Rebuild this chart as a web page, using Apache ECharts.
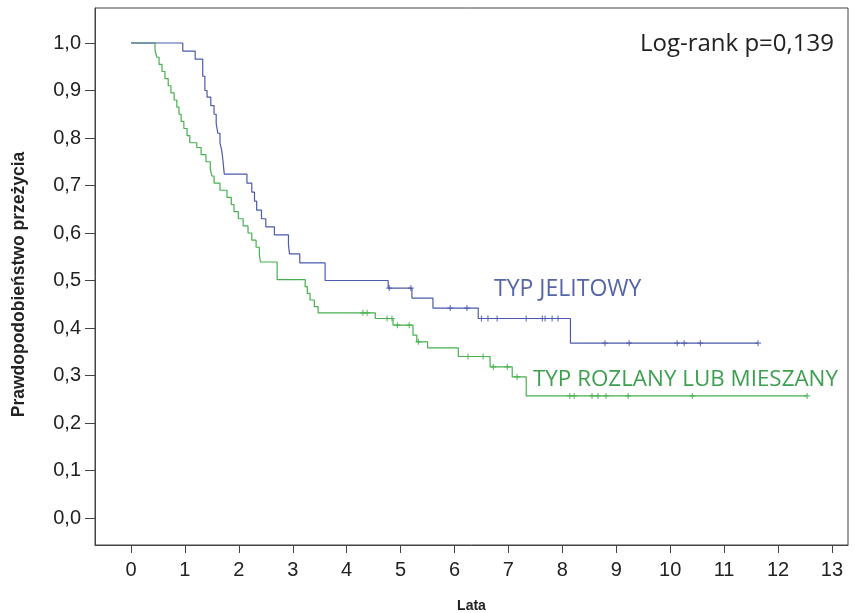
<!DOCTYPE html>
<html>
<head>
<meta charset="utf-8">
<script src="https://cdn.jsdelivr.net/npm/echarts@6/dist/echarts.min.js"></script>
<style>html,body{margin:0;padding:0;background:#fff}#c{width:856px;height:613px}</style>
</head>
<body>
<div id="c"></div>
<script>
// Kaplan-Meier steps: time of event and survival after it
const jelitowyTimes = [0, 0.96, 1.19, 1.33, 1.37, 1.41, 1.48, 1.54, 1.58, 1.61, 1.65, 1.68, 1.70, 1.73, 2.15, 2.24, 2.29, 2.33, 2.42, 2.50, 2.66, 2.92, 2.94, 3.13, 3.60, 4.77, 5.21, 5.60, 6.44, 8.15, 11.63];
const jelitowySurv  = [1.0, 0.983, 0.966, 0.93, 0.90, 0.886, 0.868, 0.85, 0.83, 0.81, 0.79, 0.775, 0.758, 0.724, 0.705, 0.686, 0.667, 0.648, 0.63, 0.613, 0.596, 0.575, 0.556, 0.537, 0.50, 0.484, 0.463, 0.442, 0.42, 0.368, 0.368];
const jelitowyCensor = [4.79, 5.19, 5.92, 6.23, 6.50, 6.62, 6.79, 7.33, 7.63, 7.68, 7.81, 7.92, 8.79, 9.24, 10.13, 10.26, 10.56, 11.63];

const rozlanyTimes = [0, 0.445, 0.48, 0.52, 0.575, 0.63, 0.69, 0.74, 0.80, 0.85, 0.89, 0.93, 0.98, 1.04, 1.09, 1.22, 1.30, 1.39, 1.47, 1.50, 1.54, 1.65, 1.78, 1.86, 1.91, 1.99, 2.08, 2.17, 2.24, 2.32, 2.38, 2.40, 2.71, 3.23, 3.27, 3.32, 3.40, 3.47, 4.53, 4.86, 5.23, 5.30, 5.50, 6.07, 6.66, 7.07, 7.33, 12.54];
const rozlanySurv  = [1.0, 0.985, 0.97, 0.955, 0.94, 0.925, 0.91, 0.895, 0.88, 0.865, 0.85, 0.835, 0.82, 0.805, 0.79, 0.78, 0.765, 0.75, 0.735, 0.72, 0.705, 0.69, 0.675, 0.66, 0.645, 0.63, 0.615, 0.60, 0.585, 0.57, 0.555, 0.539, 0.502, 0.487, 0.473, 0.459, 0.445, 0.432, 0.42, 0.406, 0.385, 0.371, 0.358, 0.34, 0.318, 0.297, 0.257, 0.257];
const rozlanyCensor = [4.30, 4.38, 4.75, 4.84, 4.94, 5.16, 5.33, 6.25, 6.53, 6.72, 6.98, 7.16, 8.14, 8.22, 8.55, 8.66, 8.81, 9.22, 10.41, 12.54];

const xTicks = [0,1,2,3,4,5,6,7,8,9,10,11,12,13];
const yTicks = [0,0.1,0.2,0.3,0.4,0.5,0.6,0.7,0.8,0.9,1.0];

const labelJelitowy = 'TYP JELITOWY';
const labelRozlany = 'TYP ROZLANY LUB MIESZANY';
const pValueText = 'Log-rank p=0,139';

function survAt(times, surv, t) {
  let s = surv[0];
  for (let i = 0; i < times.length; i++) { if (times[i] <= t) s = surv[i]; }
  return s;
}
function pairs(times, surv) { return times.map((t, i) => [t, surv[i]]); }
function censorPts(times, surv, cens) { return cens.map(t => [t, survAt(times, surv, t)]); }

const BLUE = '#4b5aae';
const GREEN = '#45b04c';
const AXIS = '#444';
const PLUS = 'path://M4,0 L6,0 L6,4 L10,4 L10,6 L6,6 L6,10 L4,10 L4,6 L0,6 L0,4 L4,4 Z';

const chart = echarts.init(document.getElementById('c'), null, {renderer: 'canvas'});
chart.setOption({
  animation: false,
  backgroundColor: '#fff',
  grid: {left: 95, right: 8, top: 8, bottom: 68, show: true, borderColor: AXIS, borderWidth: 1,
         containLabel: false, outerBoundsMode: 'none'},
  xAxis: {
    type: 'value', min: -0.668, max: 13.298,
    name: 'Lata', nameLocation: 'middle', nameGap: 54,
    nameTextStyle: {fontFamily: 'Liberation Sans', fontWeight: 'bold', fontSize: 14, color: '#222'},
    axisLine: {show: true, onZero: false, lineStyle: {color: AXIS}},
    axisTick: {show: true, inside: false, length: 8, customValues: xTicks, lineStyle: {color: AXIS}},
    axisLabel: {customValues: xTicks, margin: 15, fontFamily: 'Liberation Sans', fontSize: 20, color: '#222'},
    splitLine: {show: false}
  },
  yAxis: {
    type: 'value', min: -0.0568, max: 1.0737,
    name: 'Prawdopodobieństwo przeżycia', nameLocation: 'middle', nameGap: 67,
    nameTextStyle: {fontFamily: 'Liberation Sans', fontWeight: 'bold', fontSize: 17.5, color: '#222', padding: [0, 16, 0, 0]},
    axisLine: {show: true, onZero: false, lineStyle: {color: AXIS}},
    axisTick: {show: true, inside: false, length: 10, customValues: yTicks, lineStyle: {color: AXIS}},
    axisLabel: {customValues: yTicks, margin: 14, fontFamily: 'Liberation Sans', fontSize: 20, color: '#222',
      formatter: v => v.toFixed(1).replace('.', ',')},
    splitLine: {show: false}
  },
  series: [
    {type: 'line', step: 'end', data: pairs(jelitowyTimes, jelitowySurv), symbol: 'none',
     lineStyle: {color: BLUE, width: 1.2}, z: 3},
    {type: 'line', step: 'end', data: pairs(rozlanyTimes, rozlanySurv), symbol: 'none',
     lineStyle: {color: GREEN, width: 1.2}, z: 2},
    {type: 'scatter', data: censorPts(jelitowyTimes, jelitowySurv, jelitowyCensor), symbol: PLUS,
     symbolSize: 6, itemStyle: {color: BLUE}, z: 4},
    {type: 'scatter', data: censorPts(rozlanyTimes, rozlanySurv, rozlanyCensor), symbol: PLUS,
     symbolSize: 6, itemStyle: {color: GREEN}, z: 4}
  ],
  graphic: [
    {type: 'text', x: 494, y: 289, style: {text: labelJelitowy, fontFamily: 'Open Sans', fontSize: 23, fill: '#5565a8', textVerticalAlign: 'middle'}},
    {type: 'text', x: 533, y: 380, style: {text: labelRozlany, fontFamily: 'Open Sans', fontSize: 22.4, fill: '#3f9f50', textVerticalAlign: 'middle'}},
    {type: 'text', x: 640, y: 44, style: {text: pValueText, fontFamily: 'Open Sans', fontSize: 24, fill: '#222', textVerticalAlign: 'middle'}}
  ]
});
</script>
</body>
</html>
